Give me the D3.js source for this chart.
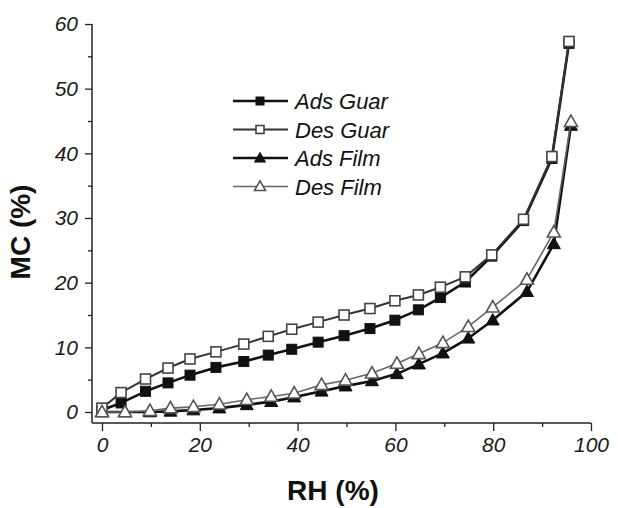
<!DOCTYPE html>
<html>
<head>
<meta charset="utf-8">
<script src="https://cdn.jsdelivr.net/npm/d3@7"></script>
<style>
  html, body { margin: 0; padding: 0; background: #fff; }
  svg { display: block; }
  text { font-family: "Liberation Sans", Arial, Helvetica, sans-serif; }
  .tick text { font-style: italic; }
</style>
</head>
<body>
<svg id="chart" width="618" height="508"></svg>
<script>
// Sorption isotherms: moisture content (MC, %) against relative humidity (RH, %)
const rhGuar  = [0, 3.9, 8.9, 13.5, 18.0, 23.3, 29.0, 34.0, 38.8, 44.2, 49.5, 54.8, 59.9, 64.7, 69.2, 74.3, 79.7, 86.2, 92.0, 95.5];
const adsGuar = [0.3, 1.4, 3.2, 4.5, 5.7, 6.9, 7.8, 8.8, 9.7, 10.8, 11.8, 12.9, 14.2, 15.8, 17.7, 20.1, 24.1, 29.6, 39.2, 57.0];
const desGuar = [0.6, 3.0, 5.1, 6.8, 8.2, 9.3, 10.5, 11.7, 12.8, 13.9, 15.0, 16.0, 17.2, 18.1, 19.3, 20.9, 24.3, 29.8, 39.5, 57.3];
const rhFilm  = [0, 4.7, 9.8, 14.0, 18.7, 24.0, 29.6, 34.6, 39.3, 44.9, 49.8, 55.2, 60.3, 64.8, 69.7, 74.9, 79.9, 86.9, 92.4, 95.9];
const adsFilm = [0, 0, 0, 0.1, 0.3, 0.6, 1.1, 1.6, 2.3, 3.2, 4.0, 4.8, 5.9, 7.4, 9.1, 11.4, 14.2, 18.6, 26.0, 44.3];
const desFilm = [0, 0, 0.2, 0.6, 0.8, 1.2, 1.9, 2.4, 2.9, 4.2, 4.9, 6.0, 7.5, 9.0, 10.7, 13.2, 16.2, 20.5, 27.8, 44.9];

const xMajorTicks = [0, 20, 40, 60, 80, 100];
const xMinorTicks = [10, 30, 50, 70, 90];
const yMajorTicks = [0, 10, 20, 30, 40, 50, 60];
const yMinorTicks = [5, 15, 25, 35, 45, 55];

const seriesNames = ["Ads Guar", "Des Guar", "Ads Film", "Des Film"];

const svg = d3.select("#chart");
const x = d3.scaleLinear().domain([0, 100]).range([102, 591]);
const y = d3.scaleLinear().domain([0, 60]).range([412, 24]);

const axisX0 = 92;    // left axis line position
const axisY0 = 423;   // bottom axis line position

// series styling
const styles = [
  { name: seriesNames[0], rh: rhGuar, mc: adsGuar, shape: "square",   filled: true,  line: "#111", lw: 2.6, ms: 10, stroke: "#111" },
  { name: seriesNames[1], rh: rhGuar, mc: desGuar, shape: "square",   filled: false, line: "#333", lw: 2.0, ms: 10, stroke: "#444" },
  { name: seriesNames[2], rh: rhFilm, mc: adsFilm, shape: "triangle", filled: true,  line: "#111", lw: 2.6, ms: 13, stroke: "#111" },
  { name: seriesNames[3], rh: rhFilm, mc: desFilm, shape: "triangle", filled: false, line: "#666", lw: 1.6, ms: 13, stroke: "#555" }
];

function drawMarker(g, shape, cx, cy, size, filled, stroke) {
  if (shape === "square") {
    g.append("rect")
      .attr("x", cx - size / 2).attr("y", cy - size / 2)
      .attr("width", size).attr("height", size)
      .attr("fill", filled ? "#111" : "#fff")
      .attr("stroke", stroke).attr("stroke-width", filled ? 1 : 1.6);
  } else {
    const h = size * 0.88;
    const pts = [[cx, cy - h * 0.58], [cx - size / 2, cy + h * 0.42], [cx + size / 2, cy + h * 0.42]];
    g.append("path")
      .attr("d", "M" + pts.map(p => p.join(",")).join("L") + "Z")
      .attr("fill", filled ? "#111" : "#fff")
      .attr("stroke", stroke).attr("stroke-width", filled ? 1 : 1.6)
      .attr("stroke-linejoin", "miter");
  }
}

// axes: minor ticks, major ticks, labels
const gx = svg.append("g").attr("transform", `translate(0,${axisY0})`);
gx.call(d3.axisBottom(x).tickValues(xMajorTicks).tickSize(8).tickPadding(6).tickSizeOuter(0));
const gxm = svg.append("g").attr("transform", `translate(0,${axisY0})`);
gxm.call(d3.axisBottom(x).tickValues(xMinorTicks).tickSize(4).tickFormat(""));

const gy = svg.append("g").attr("transform", `translate(${axisX0},0)`);
gy.call(d3.axisLeft(y).tickValues(yMajorTicks).tickSize(7).tickPadding(7).tickSizeOuter(0));
const gym = svg.append("g").attr("transform", `translate(${axisX0},0)`);
gym.call(d3.axisLeft(y).tickValues(yMinorTicks).tickSize(4).tickFormat(""));

[gx, gxm, gy, gym].forEach(g => g.attr("font-family", null).attr("font-size", null));
svg.selectAll(".domain").remove();
svg.selectAll(".tick line").attr("stroke", "#222").attr("stroke-width", 1.3);
svg.selectAll(".tick text")
  .attr("fill", "#1a1a1a")
  .attr("font-style", "italic")
  .attr("font-size", 21)
  .attr("font-family", "'Liberation Sans', Arial, sans-serif");

// axis lines extend past the data origin
svg.append("line").attr("x1", axisX0).attr("x2", axisX0).attr("y1", y(60)).attr("y2", axisY0)
  .attr("stroke", "#222").attr("stroke-width", 1.5);
svg.append("line").attr("x1", axisX0).attr("x2", x(100)).attr("y1", axisY0).attr("y2", axisY0)
  .attr("stroke", "#222").attr("stroke-width", 1.5);

// axis titles
svg.append("text")
  .attr("x", 333).attr("y", 500)
  .attr("text-anchor", "middle")
  .style("font-size", "28px").style("font-weight", "bold").attr("fill", "#111")
  .text("RH (%)");

svg.append("text")
  .attr("transform", "translate(30,232) rotate(-90)")
  .attr("text-anchor", "middle")
  .style("font-size", "28px").style("font-weight", "bold").attr("fill", "#111")
  .text("MC (%)");

// data: adsorption first, desorption drawn on top
const order = [0, 2, 1, 3];
const line = d3.line().x(d => x(d[0])).y(d => y(d[1]));
order.forEach(i => {
  const s = styles[i];
  const pts = s.rh.map((r, k) => [r, s.mc[k]]);
  const g = svg.append("g").attr("class", "series");
  g.append("path").datum(pts)
    .attr("d", line)
    .attr("fill", "none")
    .attr("stroke", s.line)
    .attr("stroke-width", s.lw)
    .attr("stroke-linejoin", "round");
  pts.forEach(p => drawMarker(g, s.shape, x(p[0]), y(p[1]), s.ms, s.filled, s.stroke));
});

// legend
const legend = svg.append("g");
const legY = [101, 129.5, 158, 186.5];
styles.forEach((s, i) => {
  const ly = legY[i];
  legend.append("line").attr("x1", 233).attr("x2", 288).attr("y1", ly).attr("y2", ly)
    .attr("stroke", s.line).attr("stroke-width", s.lw);
  drawMarker(legend, s.shape, 260, ly, s.shape === "square" ? 8 : 11, s.filled, s.stroke);
  legend.append("text")
    .attr("x", 295).attr("y", ly + 8)
    .style("font-size", "22px").style("font-style", "italic").attr("fill", "#111")
    .text(s.name);
});
</script>
</body>
</html>
